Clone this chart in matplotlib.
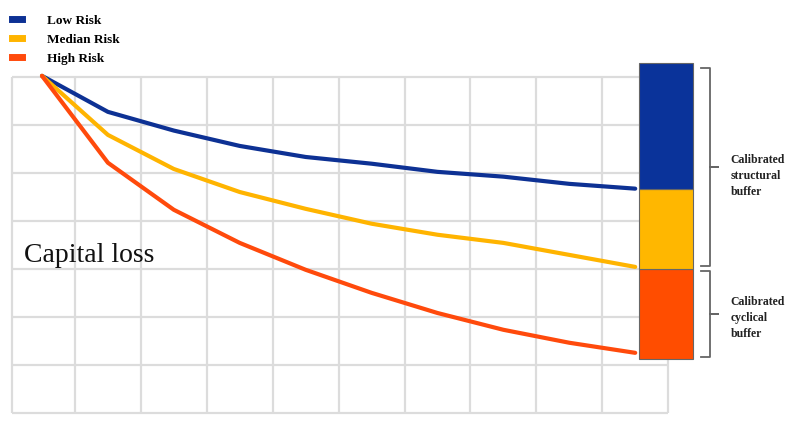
import matplotlib.pyplot as plt
from matplotlib.lines import Line2D

# horizon steps (category positions) and capital level per risk group
steps = list(range(10))
low_risk = [7.02, 6.27, 5.88, 5.56, 5.33, 5.19, 5.02, 4.92, 4.77, 4.67]
median_risk = [7.02, 5.79, 5.08, 4.60, 4.25, 3.94, 3.71, 3.54, 3.29, 3.04]
high_risk = [7.02, 5.21, 4.23, 3.54, 2.98, 2.50, 2.08, 1.73, 1.46, 1.25]

# stacked buffer bar: bottom, then segment boundaries going up
buffer_levels = [1.12, 3.0, 4.67, 7.29]
buffer_colors = ["#ff4d00", "#ffb700", "#0a339a"]
bar_pos = 9.47

line_colors = {"Low Risk": "#0d3194", "Median Risk": "#ffb400", "High Risk": "#ff4a0c"}

fig = plt.figure(figsize=(8, 4.21), dpi=100)
ax = fig.add_axes([0, 0, 1, 1])
ax.set_xlim(-0.637, 11.50)
ax.set_ylim(-0.17, 8.6)
ax.axis("off")

# background grid
grid_c = "#dcdcdc"
ax.hlines(range(8), -0.455, 9.5, color=grid_c, lw=1.6, zorder=0)
ax.vlines([-0.455] + [i + 0.5 for i in range(10)], 0, 7, color=grid_c, lw=1.6, zorder=0)

for name, vals in [("Low Risk", low_risk), ("Median Risk", median_risk), ("High Risk", high_risk)]:
    ax.plot(steps, vals, color=line_colors[name], lw=3, label=name, solid_capstyle="round", zorder=3)

for i, c in enumerate(buffer_colors):
    lo, hi = buffer_levels[i], buffer_levels[i + 1]
    ax.bar(bar_pos, hi - lo, bottom=lo, width=0.82, color=c, edgecolor="#666666", lw=0.8, zorder=4)


def brace(y0, y1, x=10.14, w=0.14):
    ym = (y0 + y1) / 2
    ax.plot([x - w, x, x, x + 0.12, x, x, x - w],
            [y0, y0, ym, ym, ym, y1, y1], color="#666666", lw=1.3, zorder=4)


brace(buffer_levels[2] - 1.62, buffer_levels[3] - 0.1)
brace(buffer_levels[0] + 0.05, buffer_levels[1] - 0.05)

font = "Liberation Serif"
ax.text(10.45, 4.94, "Calibrated\nstructural\nbuffer", fontsize=8.5, family=font, weight="bold",
        va="center", ha="left", linespacing=1.45, color="#222222")
ax.text(10.45, 1.98, "Calibrated\ncyclical\nbuffer", fontsize=8.5, family=font, weight="bold",
        va="center", ha="left", linespacing=1.45, color="#222222")
ax.text(-0.28, 3.28, "Capital loss", fontsize=20, family=font, va="center", ha="left", color="#111111")

handles = [Line2D([], [], color=line_colors[n], lw=5) for n in line_colors]
ax.legend(handles, list(line_colors), loc="upper left", bbox_to_anchor=(0.003, 0.988),
          frameon=False, prop={"family": font, "size": 9.5, "weight": "bold"}, handlelength=0.75,
          handletextpad=1.95, labelspacing=0.52, borderaxespad=0.3)

fig.savefig("out.png", dpi=100)
